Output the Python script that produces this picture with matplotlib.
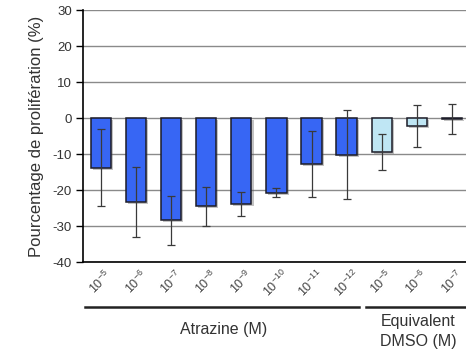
import matplotlib
matplotlib.use('Agg')
import matplotlib.pyplot as plt
import matplotlib.patheffects as pe
import matplotlib.transforms as mtransforms
from matplotlib.lines import Line2D

plt.rcParams['font.family'] = ['Liberation Sans', 'DejaVu Sans']
plt.rcParams['axes.unicode_minus'] = False
plt.rcParams['mathtext.fontset'] = 'custom'
plt.rcParams['mathtext.rm'] = 'Liberation Sans'
plt.rcParams['mathtext.it'] = 'Liberation Sans'

# concentrations (exponent of 10, in M)
exponents = ['-5', '-6', '-7', '-8', '-9', '-10', '-11', '-12', '-5', '-6', '-7']
groups = ['atrazine'] * 8 + ['dmso'] * 3
means = [-13.8, -23.3, -28.4, -24.5, -23.9, -20.7, -12.8, -10.2, -9.4, -2.2, -0.2]
errors = [10.7, 9.8, 6.8, 5.4, 3.4, 1.3, 9.2, 12.3, 4.9, 5.9, 4.1]

COLORS = {'atrazine': '#3766f4', 'dmso': '#bfe6f4'}
yticks = [-40, -30, -20, -10, 0, 10, 20, 30]

fig = plt.figure(figsize=(4.66, 3.58), dpi=100)
ax = fig.add_axes([0.178, 0.268, 0.822, 0.704])

xs = list(range(len(means)))
shadow = [pe.SimplePatchShadow(offset=(1.5, -1.5), shadow_rgbFace='#555555', alpha=0.35), pe.Normal()]
bars = ax.bar(xs, means, width=0.58, color=[COLORS[g] for g in groups],
              edgecolor='#1c1c28', linewidth=1.1, zorder=3)
for b in bars:
    b.set_path_effects(shadow)
ax.errorbar(xs, means, yerr=errors, fmt='none', ecolor='#3a3a3a', elinewidth=0.9,
            capsize=2.6, capthick=0.9, zorder=4)

ax.set_xlim(-0.51, 10.40)
ax.set_ylim(-40, 30)
ax.set_yticks(yticks)
ax.yaxis.grid(True, color='#8a8a8a', linewidth=1.0, zorder=0)
ax.set_axisbelow(True)
for s in ['top', 'right']:
    ax.spines[s].set_visible(False)
ax.spines['left'].set_linewidth(1.2)
ax.spines['bottom'].set_linewidth(1.2)
ax.tick_params(axis='y', length=5, width=1.0, labelsize=9.5, labelcolor='#333333', pad=3)
ax.tick_params(axis='x', length=0, labelsize=9, labelcolor='#444444', pad=4)
ax.set_xticks(xs)
ax.set_xticklabels(['$10^{%s}$' % e for e in exponents], rotation=45, ha='center', va='top')

ax.set_ylabel('Pourcentage de prolifération (%)', fontsize=12, color='#333333', labelpad=6)

# group brackets under the tick labels
trans = mtransforms.blended_transform_factory(ax.transData, ax.transAxes)
for x0, x1 in [(-0.46, 7.35), (7.55, 10.5)]:
    ax.add_line(Line2D([x0, x1], [-0.179, -0.179], transform=trans, color='#222222',
                       linewidth=1.8, clip_on=False))
ax.text(3.5, -0.266, 'Atrazine (M)', transform=trans, ha='center', va='center',
        fontsize=11.5, color='#333333')
ax.text(9.05, -0.274, 'Equivalent\nDMSO (M)', transform=trans, ha='center', va='center',
        fontsize=11.5, color='#333333', linespacing=1.4)

fig.savefig('out.png', dpi=100)
